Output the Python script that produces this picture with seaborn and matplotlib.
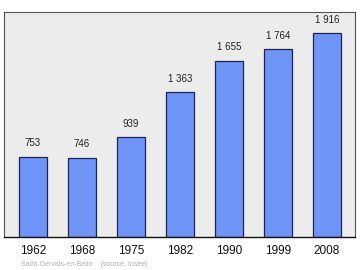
import matplotlib
matplotlib.use("Agg")
import matplotlib.pyplot as plt
import seaborn as sns
import pandas as pd

years = ["1962", "1968", "1975", "1982", "1990", "1999", "2008"]
population = [753, 746, 939, 1363, 1655, 1764, 1916]
value_labels = ["753", "746", "939", "1 363", "1 655", "1 764", "1 916"]
footer = "Saint-Gervais-en-Belin    (source: Insee)"

df = pd.DataFrame({"year": years, "pop": population})

sns.set_theme(style="white")
plt.rcParams['font.family'] = ['Liberation Sans', 'DejaVu Sans']

fig = plt.figure(figsize=(3.6, 2.7), dpi=100)
ax = fig.add_axes([4/360, 33/270, 351/360, 225/270])
ax.set_facecolor("#ececec")

sns.barplot(data=df, x="year", y="pop", ax=ax, color="#7095f8",
            saturation=1, width=0.57, edgecolor="#1c2450", linewidth=0.9)

ax.bar_label(ax.containers[0], labels=value_labels, padding=6,
             fontsize=7, color="#222222")

ax.set_xlim(-0.59, 6.57)
ax.set_ylim(0, 2113)
ax.set_yticks([])
ax.set_xlabel("")
ax.set_ylabel("")
ax.tick_params(axis="x", length=0, pad=6, labelsize=8.5, colors="#111111")
for s in ["left", "top", "right"]:
    ax.spines[s].set_color("#555555")
    ax.spines[s].set_linewidth(0.8)
ax.spines["bottom"].set_color("#111111")
ax.spines["bottom"].set_linewidth(1.0)

fig.text(21/360, 1 - 264/270, footer, fontsize=5, color="#b0b0b0",
         ha="left", va="center")

fig.savefig("out.png", dpi=100, facecolor="white")
